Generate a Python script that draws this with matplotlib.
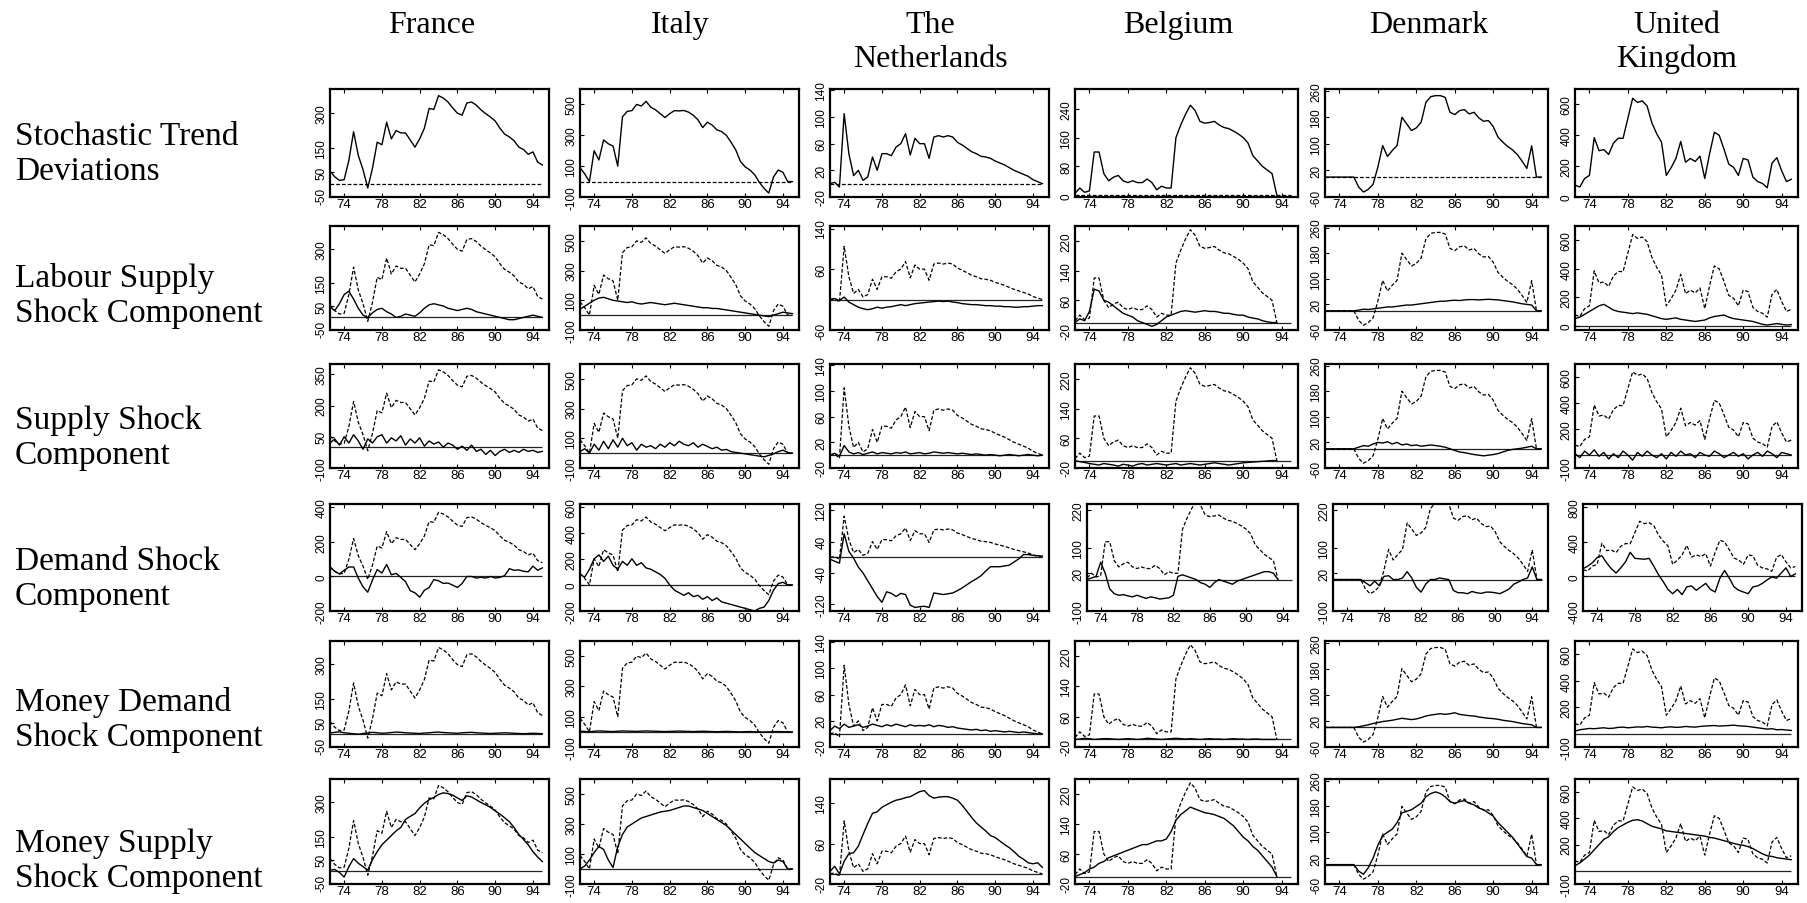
import numpy as np
import matplotlib
matplotlib.use("Agg")
import matplotlib.pyplot as plt

nan = np.nan

# ---------------- data ----------------
YEARS = np.arange(72.5, 95.01, 0.5)   # half-yearly time index, 1972.5 ... 1995.0

COUNTRIES = ["France", "Italy", "The\nNetherlands", "Belgium", "Denmark", "United\nKingdom"]
ROW_LABELS = ["Stochastic Trend\nDeviations", "Labour Supply\nShock Component",
              "Supply Shock\nComponent", "Demand Shock\nComponent",
              "Money Demand\nShock Component", "Money Supply\nShock Component"]
XTICKS = [74, 78, 82, 86, 90, 94]
XTICKLABELS = ["74", "78", "82", "86", "90", "94"]

# France
FR_TOTAL = [55, 30, 15, 18, 100, 220, 120, 60, -17, 66,
            176, 165, 260, 190, 225, 215, 215, 185, 155, 190,
            235, 318, 314, 372, 362, 345, 320, 298, 290, 341,
            345, 332, 312, 296, 282, 265, 235, 210, 198, 182,
            155, 145, 125, 135, 92, 80]
FR_LABOUR = [45, 30, 60, 100, 115, 80, 40, 10, 0, 20,
             35, 40, 25, 15, 0, 5, 15, 10, 5, 20,
             40, 55, 60, 55, 50, 40, 35, 30, 35, 40,
             35, 25, 20, 15, 10, 5, 0, -5, -10, -10,
             -5, 0, 5, 10, 5, 0]
FR_SUPPLY = [20, 40, 10, 50, 20, 60, 30, -10, 40, 20,
             50, 60, 20, 45, 30, 55, 10, 40, 20, 45,
             5, 30, 15, 25, 0, 20, 10, -10, 5, -15,
             10, -20, -10, -35, -15, -40, -20, -10, -25, -15,
             -25, -10, -20, -15, -25, -20]
FR_DEMAND = [55, 30, 15, 36, 55, 55, -10, -60, -91, -20,
             40, 20, 70, 10, 18, -5, -30, -82, -95, -120,
             -80, -64, -18, -25, -40, -38, -50, -64, -40, 0,
             0, -9, -5, -9, 0, -9, -5, 5, 45, 36,
             38, 30, 27, 60, 36, 50]
FR_MDEMAND = [5, 8, 10, 6, 4, 2, 0, 3, 5, 8,
              6, 4, 5, 7, 9, 8, 6, 5, 4, 3,
              5, 6, 8, 9, 7, 6, 5, 4, 6, 7,
              8, 6, 5, 4, 3, 4, 5, 6, 5, 4,
              3, 2, 3, 4, 3, 2]
FR_MSUPPLY = [5, 8, -5, -25, 20, 55, 35, 20, 5, 50,
              85, 115, 135, 155, 175, 190, 225, 238, 250, 275,
              295, 310, 320, 333, 340, 337, 330, 318, 307, 327,
              322, 310, 298, 288, 277, 262, 248, 232, 215, 190,
              160, 138, 115, 85, 62, 42]

# Italy
IT_TOTAL = [90, 50, 0, 200, 140, 270, 245, 230, 100, 420,
            455, 460, 500, 490, 520, 482, 465, 440, 415, 440,
            460, 458, 461, 450, 430, 400, 350, 385, 366, 335,
            324, 300, 255, 205, 130, 95, 75, 45, -5, -44,
            -75, 30, 75, 60, 0, 0]
IT_LABOUR = [40, 60, 80, 100, 115, 120, 110, 100, 95, 90,
             85, 90, 80, 75, 80, 85, 80, 75, 70, 75,
             80, 75, 70, 65, 60, 55, 50, 50, 45, 45,
             40, 35, 30, 25, 20, 15, 10, 5, 0, -5,
             -10, 0, 10, 20, 15, 10]
IT_SUPPLY = [10, 30, 0, 60, 20, 80, 30, 90, 40, 100,
             50, 70, 20, 60, 40, 50, 30, 60, 40, 70,
             50, 80, 60, 50, 70, 40, 60, 45, 30, 40,
             20, 25, 10, 5, 0, -5, -10, -15, -20, -25,
             -15, -5, 10, 20, 5, 0]
IT_DEMAND = [80, 60, 120, 200, 230, 180, 220, 150, 120, 180,
             150, 200, 150, 170, 130, 120, 100, 80, 50, 0,
             -40, -60, -80, -60, -90, -80, -110, -90, -120, -100,
             -130, -140, -150, -160, -170, -180, -190, -200, -180, -170,
             -120, -40, 10, 20, 0, 0]
IT_MDEMAND = [5, 3, 0, 4, 6, 5, 3, 2, 4, 6,
              5, 4, 3, 5, 6, 5, 4, 3, 2, 3,
              4, 5, 4, 3, 2, 3, 4, 3, 2, 1,
              2, 3, 2, 1, 0, 1, 2, 1, 0, -1,
              0, 1, 2, 1, 0, 0]
IT_MSUPPLY = [0, 20, 60, 110, 150, 130, 60, 10, 150, 230,
              280, 300, 320, 340, 350, 360, 370, 380, 385, 390,
              400, 410, 420, 420, 410, 400, 390, 370, 350, 330,
              310, 290, 260, 230, 200, 170, 140, 110, 90, 70,
              50, 40, 60, 50, 0, 0]

# The Netherlands
NL_TOTAL = [0, 2, -5, 105, 45, 12, 20, 5, 10, 40,
            20, 45, 45, 42, 55, 60, 75, 43, 68, 60,
            60, 38, 70, 72, 70, 72, 70, 62, 58, 53,
            48, 45, 41, 40, 38, 34, 31, 28, 24, 20,
            17, 14, 11, 6, 3, 0]
NL_LABOUR = [0, 2, -2, 5, -5, -10, -15, -18, -20, -18,
             -15, -17, -15, -14, -12, -10, -12, -10, -8, -7,
             -6, -5, -4, -3, -4, -3, -5, -6, -8, -9,
             -10, -10, -11, -12, -12, -13, -13, -14, -14, -15,
             -15, -14, -14, -13, -12, -12]
NL_SUPPLY = [0, 3, -2, 15, 5, 2, 4, 1, 3, 5,
             2, 4, 3, 2, 4, 3, 5, 2, 3, 4,
             2, 3, 5, 4, 3, 4, 3, 2, 3, 2,
             1, 2, 1, 0, 1, 0, -1, 0, 1, 0,
             -1, 0, 1, 0, -1, 0]
NL_DEMAND = [-5, -10, -15, 60, 15, -2, -25, -40, -60, -80,
             -100, -115, -88, -92, -100, -92, -95, -122, -128, -126,
             -125, -128, -91, -93, -95, -93, -91, -85, -78, -70,
             -62, -55, -47, -35, -24, -24, -24, -22, -20, -12,
             -4, 7, 7, 5, 4, 3]
NL_MDEMAND = [5, 12, 8, 15, 10, 12, 14, 10, 12, 15,
              13, 11, 14, 12, 15, 13, 11, 14, 12, 13,
              12, 14, 11, 13, 12, 10, 11, 9, 8, 7,
              6, 7, 5, 6, 4, 5, 4, 3, 4, 3,
              2, 3, 2, 1, 0, 0]
NL_MSUPPLY = [5, 15, 0, 25, 40, 42, 55, 78, 100, 120,
              123, 132, 137, 142, 146, 148, 151, 153, 158, 163,
              165, 155, 150, 152, 153, 153, 150, 146, 136, 124,
              112, 101, 93, 85, 76, 72, 65, 58, 52, 44,
              35, 29, 22, 20, 22, 13]

# Belgium
BE_TOTAL = [5, 20, 8, 12, 120, 120, 60, 40, 50, 55,
            40, 35, 40, 35, 35, 45, 35, 15, 25, 20,
            20, 160, 195, 225, 250, 235, 205, 200, 202, 205,
            195, 188, 185, 178, 170, 160, 145, 110, 95, 80,
            70, 60, 0, nan, nan, nan]
BE_LABOUR = [0, 10, 5, 30, 90, 85, 60, 55, 45, 35,
             25, 20, 15, 5, 0, -5, -10, -5, 5, 15,
             20, 25, 30, 32, 30, 28, 30, 32, 30, 30,
             28, 25, 25, 22, 20, 20, 15, 12, 10, 5,
             2, 0, 0, nan, nan, nan]
BE_SUPPLY = [0, -3, -5, -8, -10, -12, -8, -10, -12, -15,
             -10, -12, -15, -10, -8, -12, -10, -8, -10, -12,
             -10, -8, -12, -10, -8, -10, -12, -10, -8, -6,
             -8, -10, -12, -10, -8, -6, -5, -4, -3, -2,
             -1, 0, 0, nan, nan, nan]
BE_DEMAND = [0, 5, 10, 55, 20, -30, -45, -50, -48, -52,
             -55, -50, -55, -60, -55, -58, -62, -60, -58, -50,
             10, 15, 10, 5, 0, -10, -15, -25, -10, 0,
             -5, -10, -15, -5, 0, 5, 10, 15, 20, 25,
             25, 20, 0, nan, nan, nan]
BE_MDEMAND = [0, 1, 3, 2, 0, 1, 2, 2, 1, 0,
              1, 2, 1, 0, 1, 3, 2, 1, 0, 1,
              2, 3, 2, 1, 2, 1, 0, 1, 2, 1,
              1, 0, 1, 2, 1, 1, 0, 1, 1, 0,
              0, 0, 0, nan, nan, nan]
BE_MSUPPLY = [0, 5, 10, 20, 25, 35, 40, 50, 55, 60,
              65, 70, 75, 80, 85, 85, 90, 95, 95, 100,
              120, 150, 165, 175, 185, 180, 175, 170, 168, 165,
              160, 155, 145, 135, 120, 105, 95, 80, 70, 55,
              40, 25, 0, nan, nan, nan]

# Denmark
DK_TOTAL = [0, 0, 0, 0, 0, 0, 0, -30, -45, -37,
            -22, 30, 95, 62, 80, 95, 180, 160, 140, 148,
            165, 225, 242, 245, 245, 240, 195, 188, 200, 203,
            190, 195, 178, 168, 170, 152, 120, 105, 92, 82,
            68, 48, 26, 94, 0, 0]
DK_LABOUR = [0, 0, 0, 0, 0, 0, 0, 2, 5, 4,
             6, 8, 10, 12, 12, 14, 16, 18, 18, 20,
             22, 24, 26, 28, 30, 30, 32, 33, 32, 34,
             35, 35, 34, 35, 36, 35, 34, 32, 30, 28,
             25, 22, 20, 18, 0, 0]
DK_SUPPLY = [0, 0, 0, 0, 0, 0, 0, 5, 10, 8,
             15, 20, 18, 22, 15, 20, 12, 15, 10, 12,
             8, 10, 12, 10, 8, 5, 0, -5, -10, -12,
             -15, -18, -20, -22, -20, -18, -15, -10, -5, -2,
             0, 2, 5, 8, 0, 0]
DK_DEMAND = [0, 0, 0, 0, 0, 0, 0, -10, -20, -5,
             -20, 10, 12, 0, 0, 5, 25, 5, -25, -40,
             -15, 0, 0, 5, 2, 0, -35, -42, -42, -45,
             -38, -42, -44, -40, -40, -42, -45, -38, -30, -15,
             -8, 0, 5, 40, 0, 0]
DK_MDEMAND = [0, 0, 0, 0, 0, 0, 0, 2, 5, 8,
              12, 15, 18, 20, 22, 25, 28, 26, 24, 26,
              30, 35, 38, 40, 42, 40, 42, 45, 40, 38,
              36, 35, 32, 30, 28, 27, 25, 22, 20, 18,
              15, 12, 10, 8, 0, 0]
DK_MSUPPLY = [0, 0, 0, 0, 0, 0, 0, -20, -30, -10,
              20, 60, 90, 100, 110, 130, 160, 165, 170, 180,
              190, 210, 220, 225, 220, 210, 195, 190, 195, 198,
              190, 185, 175, 170, 160, 150, 130, 115, 100, 85,
              65, 45, 25, 20, 0, 0]

# United Kingdom
UK_TOTAL = [76, 65, 120, 140, 385, 300, 307, 276, 349, 381,
            380, 510, 640, 613, 623, 590, 480, 410, 355, 140,
            190, 250, 360, 225, 250, 230, 265, 120, 280, 420,
            400, 310, 213, 192, 140, 250, 240, 130, 100, 88,
            60, 220, 255, 170, 100, 115]
UK_LABOUR = [50, 60, 80, 100, 120, 140, 150, 130, 110, 100,
             95, 90, 85, 90, 85, 80, 70, 60, 50, 45,
             50, 55, 45, 40, 35, 30, 35, 40, 55, 65,
             70, 75, 60, 50, 45, 40, 35, 30, 20, 10,
             5, 10, 15, 10, 5, 8]
UK_SUPPLY = [10, -20, 30, 0, 40, -10, 20, -30, 10, -20,
             30, 0, -40, 20, -10, 30, 0, -20, 10, -30,
             20, -10, 30, 0, 10, -20, 20, 0, -10, 30,
             10, -20, 0, 20, -10, 10, -30, 0, 20, -10,
             30, 10, -20, 20, 10, 0]
UK_DEMAND = [90, 120, 160, 220, 240, 160, 90, 40, 100, 170,
             280, 210, 205, 200, 210, 120, 20, -60, -150, -200,
             -150, -210, -120, -110, -160, -120, -80, -150, -180, -20,
             70, -20, -120, -160, -180, -200, -120, -110, -80, -40,
             -5, -20, 40, 100, 0, 30]
UK_MDEMAND = [20, 30, 35, 40, 38, 42, 45, 40, 42, 48,
              50, 45, 48, 52, 50, 55, 50, 48, 45, 50,
              52, 48, 50, 55, 52, 50, 55, 58, 60, 62,
              58, 60, 62, 65, 60, 58, 55, 50, 45, 40,
              35, 38, 30, 32, 28, 25]
UK_MSUPPLY = [40, 60, 90, 120, 160, 200, 240, 260, 300, 330,
              350, 370, 385, 390, 380, 360, 340, 330, 320, 305,
              300, 295, 290, 285, 280, 275, 270, 265, 255, 250,
              240, 230, 220, 210, 200, 195, 185, 170, 150, 130,
              115, 110, 100, 95, 90, 85]

TOTALS = [FR_TOTAL, IT_TOTAL, NL_TOTAL, BE_TOTAL, DK_TOTAL, UK_TOTAL]
COMPONENTS = [
    [FR_LABOUR, IT_LABOUR, NL_LABOUR, BE_LABOUR, DK_LABOUR, UK_LABOUR],
    [FR_SUPPLY, IT_SUPPLY, NL_SUPPLY, BE_SUPPLY, DK_SUPPLY, UK_SUPPLY],
    [FR_DEMAND, IT_DEMAND, NL_DEMAND, BE_DEMAND, DK_DEMAND, UK_DEMAND],
    [FR_MDEMAND, IT_MDEMAND, NL_MDEMAND, BE_MDEMAND, DK_MDEMAND, UK_MDEMAND],
    [FR_MSUPPLY, IT_MSUPPLY, NL_MSUPPLY, BE_MSUPPLY, DK_MSUPPLY, UK_MSUPPLY],
]

# y-axis ranges and tick values (rows x countries)
YLIMS = [
    [(-55, 400), (-100, 600), (-20, 142), (-5, 295), (-60, 265), (0, 700)],
    [(-55, 400), (-100, 600), (-60, 145), (-20, 260), (-60, 265), (-30, 700)],
    [(-100, 400), (-100, 600), (-20, 142), (-20, 260), (-60, 265), (-100, 700)],
    [(-200, 420), (-200, 620), (-137, 136), (-100, 240), (-100, 240), (-400, 840)],
    [(-55, 400), (-100, 600), (-20, 142), (-20, 260), (-60, 265), (-100, 700)],
    [(-55, 400), (-100, 600), (-20, 188), (-20, 260), (-60, 265), (-100, 700)],
]
YTICKS = [
    [[-50, 50, 150, 300], [-100, 100, 300, 500], [-20, 20, 60, 100, 140], [0, 80, 160, 240], [-60, 20, 100, 180, 260], [0, 200, 400, 600]],
    [[-50, 50, 150, 300], [-100, 100, 300, 500], [-60, 60, 140], [-20, 60, 140, 220], [-60, 20, 100, 180, 260], [0, 200, 400, 600]],
    [[-100, 50, 200, 350], [-100, 100, 300, 500], [-20, 20, 60, 100, 140], [-20, 60, 140, 220], [-60, 20, 100, 180, 260], [-100, 200, 400, 600]],
    [[-200, 0, 200, 400], [-200, 0, 200, 400, 600], [-120, -40, 40, 120], [-100, 20, 100, 220], [-100, 20, 100, 220], [-400, 0, 400, 800]],
    [[-50, 50, 150, 300], [-100, 100, 300, 500], [-20, 20, 60, 100, 140], [-20, 60, 140, 220], [-60, 20, 100, 180, 260], [-100, 200, 400, 600]],
    [[-50, 50, 150, 300], [-100, 100, 300, 500], [-20, 60, 140], [-20, 60, 140, 220], [-60, 20, 100, 180, 260], [-100, 200, 400, 600]],
]

# ---------------- layout (pixels) ----------------
W, H = 1807, 904
fig = plt.figure(figsize=(W / 100, H / 100), dpi=100)
fig.patch.set_facecolor("white")

COL_LEFT = [330, 580, 830, 1075, 1325, 1575]
COL_RIGHT = [549, 799, 1049, 1298, 1548, 1798]
ROW_TOP = [90, 227, 365, 505, 642, 780]
ROW_BOT = [198, 331, 469, 612, 748, 885]
# the demand row is drawn with slightly shifted boxes in the last three columns
ROW4_LEFT = {3: 1087, 4: 1333, 5: 1583}
ROW4_RIGHT = {5: 1802}

TITLE_X = [432, 680, 930, 1178, 1429, 1677]
LABEL_Y = [154, 296, 438, 579, 720, 861]

serif = "Liberation Serif"
sans = "Liberation Sans"

for c, name in enumerate(COUNTRIES):
    fig.text(TITLE_X[c] / W, 1 - 11 / H, name, ha="center", va="top",
             fontsize=23, family=serif, linespacing=1.22)
for r, lab in enumerate(ROW_LABELS):
    fig.text(15 / W, 1 - LABEL_Y[r] / H, lab, ha="left", va="center",
             fontsize=24, family=serif, linespacing=1.2)

dash = (0, (3.0, 1.6))
for r in range(6):
    for c in range(6):
        left = COL_LEFT[c]
        right = COL_RIGHT[c]
        if r == 3:
            left = ROW4_LEFT.get(c, left)
            right = ROW4_RIGHT.get(c, right)
        top, bot = ROW_TOP[r], ROW_BOT[r]
        ax = fig.add_axes([left / W, 1 - bot / H, (right - left) / W, (bot - top) / H])
        total = np.array(TOTALS[c], dtype=float)
        if r == 0:
            ax.hlines(0, YEARS[0], YEARS[-1], colors="black", linestyles=dash, lw=0.9, zorder=1)
            ax.plot(YEARS, total, color="black", lw=1.0, zorder=3)
        else:
            comp = np.array(COMPONENTS[r - 1][c], dtype=float)
            ax.hlines(0, YEARS[0], YEARS[-1], colors="#222222", lw=0.9, zorder=1)
            ax.plot(YEARS, total, color="black", lw=0.9, ls=dash, zorder=2)
            ax.plot(YEARS, comp, color="black", lw=1.0, zorder=3)
        ax.set_xlim(72.5, 95.7)
        ax.set_ylim(*YLIMS[r][c])
        ax.set_xticks(XTICKS)
        ax.set_xticklabels(XTICKLABELS, fontsize=9.5, family=sans)
        ax.set_yticks(YTICKS[r][c])
        ax.set_yticklabels([str(v) for v in YTICKS[r][c]], fontsize=8.5, family=sans,
                           rotation=90, va="center")
        ax.tick_params(axis="both", direction="in", length=3, width=0.8, pad=2)
        ax.tick_params(axis="x", top=True, pad=1)
        for sp in ax.spines.values():
            sp.set_linewidth(1.6)

fig.savefig("out.png", dpi=100, facecolor="white")
